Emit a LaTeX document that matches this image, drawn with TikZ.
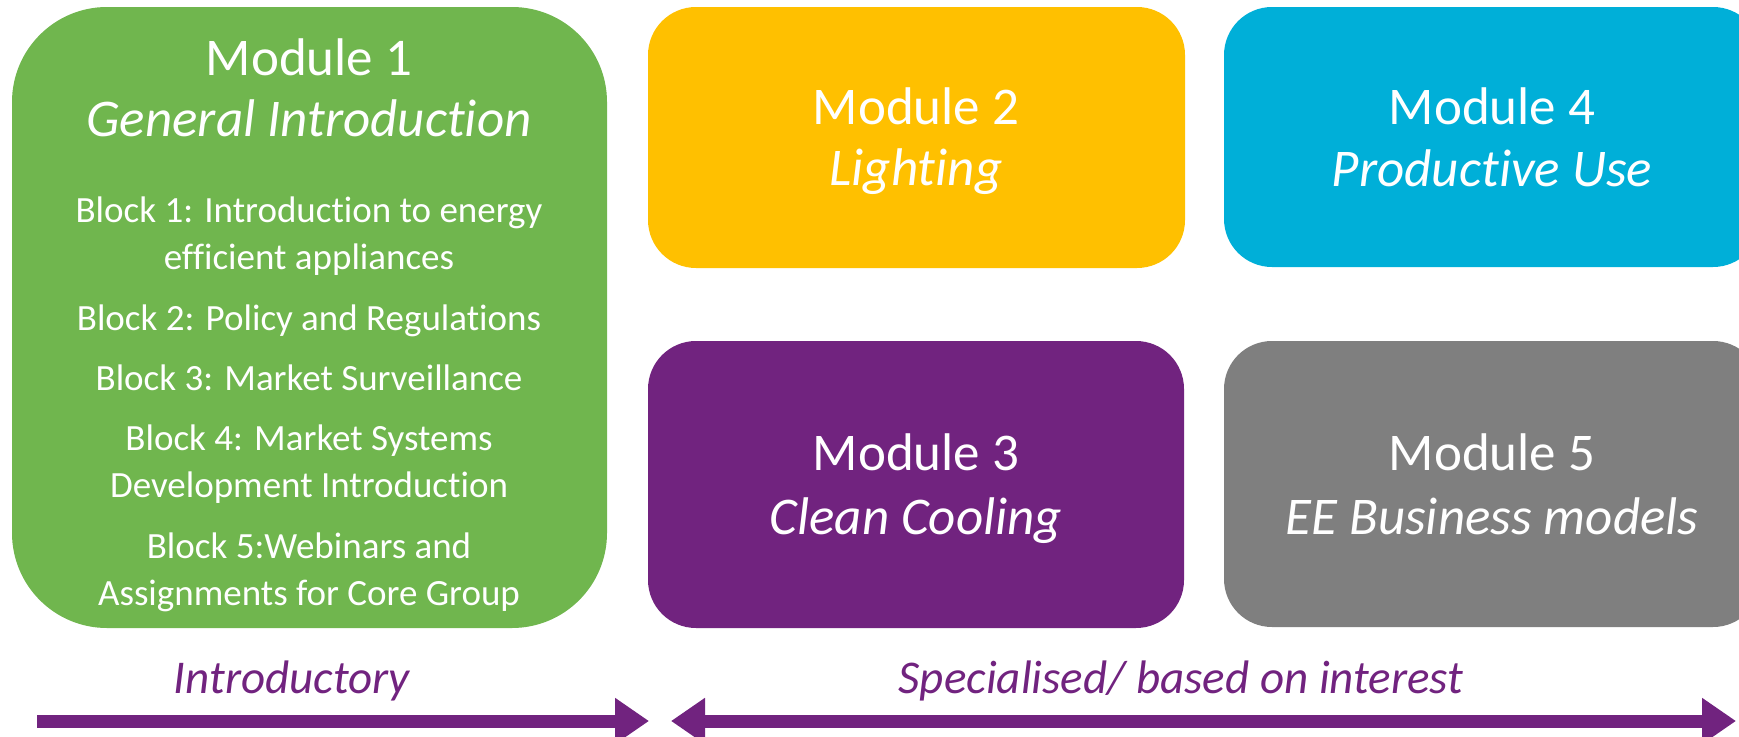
\documentclass[tikz,border=0pt]{standalone}
\usepackage{fontspec}
\setmainfont[Ligatures=NoCommon]{Carlito}
\usetikzlibrary{arrows.meta}
\definecolor{modgreen}{HTML}{70B64E}
\definecolor{modyellow}{HTML}{FFC000}
\definecolor{modcyan}{HTML}{00AFD8}
\definecolor{modpurple}{HTML}{71237F}
\definecolor{modgrey}{HTML}{7F7F7F}
\newcommand{\nolig}{\kern0pt}
\tikzset{
	modbox/.style={rectangle, rounded corners=#1, inner sep=0pt},
	modtitle/.style={anchor=base, text=white, font=\fontsize{53}{60}\selectfont},
	modsub/.style={anchor=base, text=white, font=\fontsize{53}{60}\selectfont\itshape},
	blockline/.style={anchor=base, text=white, font=\fontsize{37}{44}\selectfont},
	phase/.style={anchor=base, text=modpurple, font=\fontsize{47}{54}\selectfont\itshape},
	phasetip/.tip={Triangle[length=34pt, width=44pt]},
	phasearrow/.style={draw=modpurple, line width=13pt}
}

\begin{document}
\begin{tikzpicture}[x=1pt, y=-1pt]
		\useasboundingbox (0,0) rectangle (1739,736);
		% module boxes
		\node[modbox=95pt, fill=modgreen, minimum width=595pt, minimum height=621pt] (m1) at (309.5,317.5) {};
		\node[modbox=48pt, fill=modyellow, minimum width=537pt, minimum height=261pt] (m2) at (916.5,137.5) {};
		\node[modbox=48pt, fill=modpurple, minimum width=536pt, minimum height=287pt] (m3) at (916,484.5) {};
		\node[modbox=48pt, fill=modcyan, minimum width=537pt, minimum height=260pt] (m4) at (1492.5,137) {};
		\node[modbox=48pt, fill=modgrey, minimum width=537pt, minimum height=286pt] (m5) at (1492.5,484) {};
		% module 1 texts
		\node[modtitle] (m1a) at (309,75) {Module 1};
		\node[modsub] (m1b) at (309,136) {General Introduc\nolig{}tion};
		\node[blockline] (b1a) at (309,222) {Block 1: Introduc\nolig{}tion to energy};
		\node[blockline] (b1b) at (309,269) {efficient appliances};
		\node[blockline] (b2) at (309,330) {Block 2: Policy and Regulations};
		\node[blockline] (b3) at (309,390) {Block 3: Market Surveillance};
		\node[blockline] (b4a) at (309,450) {Block 4: Market Systems};
		\node[blockline] (b4b) at (309,497) {Development Introduc\nolig{}tion};
		\node[blockline] (b5a) at (309,558) {Block 5:Webinars and};
		\node[blockline] (b5b) at (309,605) {Assignments for Core Group};
		% other modules
		\node[modtitle] (m2a) at (916,124) {Module 2};
		\node[modsub] (m2b) at (916,185) {Light\nolig{}ing};
		\node[modtitle] (m3a) at (916,470) {Module 3};
		\node[modsub] (m3b) at (916,534) {Clean Cooling};
		\node[modtitle] (m4a) at (1492,124) {Module 4};
		\node[modsub] (m4b) at (1492,186) {Product\nolig{}ive Use};
		\node[modtitle] (m5a) at (1492,470) {Module 5};
		\node[modsub] (m5b) at (1492,534) {EE Business models};
		% phases
		\node[phase] (intro) at (292,693) {Introductory};
		\node[phase] (spec) at (1181,693) {Specialised/ based on interest};
		\coordinate (introstart) at (37,721);
		\coordinate (introend) at (649,721);
		\coordinate (specstart) at (671,721);
		\coordinate (specend) at (1736,721);
		\draw[phasearrow, -phasetip] (introstart) -- (introend);
		\draw[phasearrow, phasetip-phasetip] (specstart) -- (specend);
	\end{tikzpicture}
\end{document}
